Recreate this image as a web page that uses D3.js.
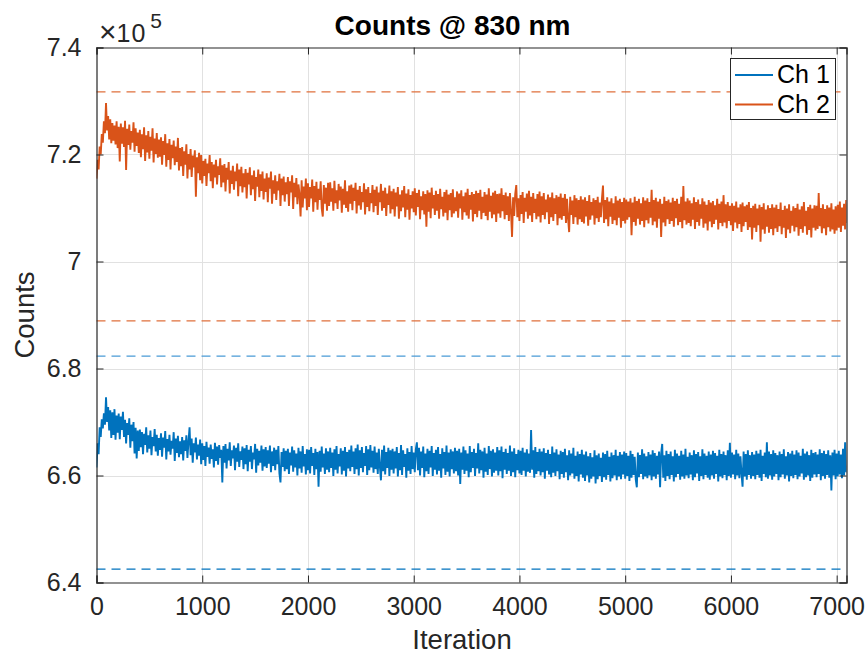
<!DOCTYPE html>
<html>
<head>
<meta charset="utf-8">
<script src="https://cdn.jsdelivr.net/npm/d3@7"></script>
<style>
    body { margin: 0; background: #ffffff; }
    text { font-family: "Liberation Sans", Arial, Helvetica, sans-serif; fill: #262626; }
</style>
</head>
<body>
<div class="counts-plot"></div>
<script>
// one sample every 10 iterations, counts in hundreds (7158 -> 715,800)
const iter_step = 10;
const x_max = 7093;

const ch1_counts = [
    6615, 6660, 6640, 6690, 6672, 6705, 6688, 6716, 6695, 6746, 6700, 6728, 6684, 6722, 6670, 6718, 6676, 6724, 6667, 6712,
    6680, 6716, 6668, 6710, 6685, 6719, 6672, 6704, 6660, 6698, 6676, 6707, 6652, 6695, 6664, 6700, 6641, 6689, 6632, 6684,
    6646, 6686, 6653, 6681, 6640, 6678, 6657, 6690, 6643, 6675, 6650, 6684, 6638, 6672, 6655, 6687, 6645, 6676, 6637, 6670,
    6648, 6679, 6635, 6671, 6652, 6683, 6630, 6668, 6645, 6676, 6639, 6665, 6650, 6681, 6627, 6669, 6642, 6674, 6634, 6664,
    6640, 6672, 6628, 6666, 6646, 6675, 6633, 6663, 6690, 6638, 6669, 6624, 6660, 6643, 6671, 6630, 6658, 6637, 6667, 6621,
    6660, 6629, 6655, 6618, 6663, 6635, 6652, 6622, 6658, 6631, 6649, 6615, 6661, 6627, 6654, 6620, 6657, 6633, 6648, 6587,
    6655, 6624, 6659, 6613, 6650, 6628, 6662, 6618, 6647, 6632, 6656, 6610, 6652, 6626, 6660, 6616, 6645, 6629, 6654, 6612,
    6651, 6621, 6657, 6608, 6648, 6626, 6655, 6612, 6643, 6630, 6659, 6605, 6650, 6619, 6646, 6624, 6656, 6609, 6649, 6617,
    6653, 6614, 6647, 6622, 6656, 6606, 6645, 6618, 6652, 6610, 6648, 6621, 6655, 6604, 6587, 6644, 6616, 6651, 6608, 6646,
    6612, 6650, 6603, 6643, 6619, 6654, 6607, 6647, 6615, 6641, 6600, 6652, 6613, 6645, 6605, 6655, 6617, 6640, 6602, 6649,
    6610, 6648, 6604, 6653, 6618, 6642, 6601, 6650, 6612, 6644, 6579, 6646, 6607, 6654, 6615, 6641, 6603, 6651, 6611, 6645,
    6606, 6652, 6614, 6643, 6599, 6649, 6611, 6655, 6604, 6640, 6617, 6651, 6602, 6646, 6609, 6653, 6598, 6644, 6613, 6648,
    6608, 6656, 6616, 6645, 6603, 6651, 6612, 6658, 6600, 6647, 6614, 6653, 6606, 6642, 6618, 6655, 6601, 6649, 6610, 6657,
    6615, 6646, 6605, 6654, 6612, 6643, 6603, 6650, 6617, 6591, 6648, 6608, 6656, 6602, 6644, 6614, 6652, 6599, 6647, 6611,
    6650, 6604, 6645, 6613, 6653, 6598, 6642, 6610, 6657, 6601, 6647, 6616, 6640, 6596, 6651, 6609, 6644, 6603, 6655, 6612,
    6643, 6606, 6649, 6662, 6610, 6652, 6600, 6645, 6614, 6654, 6597, 6641, 6608, 6650, 6603, 6646, 6615, 6655, 6599, 6642,
    6611, 6648, 6602, 6653, 6609, 6640, 6596, 6651, 6613, 6644, 6601, 6656, 6607, 6643, 6598, 6649, 6612, 6645, 6604, 6652,
    6608, 6646, 6600, 6650, 6584, 6643, 6611, 6654, 6603, 6647, 6609, 6641, 6597, 6655, 6606, 6644, 6614, 6650, 6599, 6642,
    6613, 6660, 6604, 6648, 6610, 6645, 6596, 6652, 6607, 6641, 6601, 6655, 6612, 6646, 6598, 6649, 6605, 6643, 6609, 6653,
    6600, 6647, 6608, 6654, 6595, 6644, 6611, 6650, 6603, 6642, 6609, 6656, 6599, 6645, 6606, 6651, 6597, 6640, 6610, 6648,
    6604, 6646, 6601, 6652, 6609, 6643, 6598, 6649, 6607, 6641, 6605, 6685, 6611, 6647, 6596, 6653, 6603, 6644, 6608, 6650,
    6600, 6645, 6606, 6651, 6594, 6642, 6609, 6648, 6602, 6640, 6597, 6654, 6605, 6643, 6599, 6649, 6608, 6639, 6593, 6646,
    6603, 6644, 6596, 6650, 6606, 6638, 6591, 6647, 6600, 6641, 6604, 6652, 6594, 6637, 6599, 6645, 6589, 6640, 6602, 6648,
    6596, 6639, 6590, 6645, 6600, 6636, 6587, 6642, 6594, 6634, 6598, 6647, 6585, 6638, 6593, 6641, 6599, 6633, 6588, 6643,
    6597, 6640, 6592, 6646, 6601, 6635, 6589, 6643, 6595, 6638, 6600, 6648, 6591, 6637, 6598, 6644, 6593, 6639, 6602, 6645,
    6594, 6642, 6599, 6637, 6590, 6646, 6596, 6640, 6601, 6635, 6592, 6578, 6643, 6597, 6638, 6603, 6649, 6593, 6641, 6598,
    6636, 6595, 6644, 6600, 6639, 6591, 6647, 6598, 6642, 6594, 6637, 6602, 6645, 6578, 6641, 6659, 6596, 6638, 6590, 6646,
    6599, 6640, 6593, 6645, 6601, 6636, 6589, 6648, 6597, 6641, 6603, 6637, 6592, 6646, 6598, 6639, 6594, 6650, 6600, 6635,
    6595, 6643, 6602, 6638, 6591, 6647, 6597, 6640, 6604, 6644, 6590, 6636, 6599, 6649, 6593, 6641, 6601, 6637, 6596, 6645,
    6592, 6639, 6600, 6646, 6594, 6642, 6603, 6637, 6589, 6648, 6598, 6640, 6595, 6645, 6601, 6638, 6591, 6647, 6599, 6661,
    6596, 6643, 6602, 6639, 6593, 6648, 6600, 6641, 6595, 6636, 6604, 6579, 6645, 6598, 6640, 6592, 6647, 6601, 6638, 6594,
    6644, 6599, 6639, 6593, 6646, 6601, 6641, 6596, 6648, 6590, 6637, 6603, 6643, 6597, 6662, 6594, 6645, 6600, 6640, 6592,
    6647, 6598, 6642, 6603, 6638, 6591, 6645, 6597, 6640, 6602, 6649, 6594, 6636, 6600, 6644, 6589, 6641, 6599, 6646, 6595,
    6639, 6601, 6647, 6593, 6643, 6598, 6637, 6604, 6650, 6592, 6641, 6597, 6645, 6600, 6638, 6590, 6648, 6596, 6642, 6602,
    6644, 6597, 6639, 6603, 6649, 6591, 6642, 6599, 6646, 6594, 6640, 6601, 6647, 6596, 6638, 6572, 6643, 6600, 6648, 6593,
    6641, 6598, 6646, 6602, 6639, 6595, 6650, 6600, 6662, 6606, 6618
];

const ch2_counts = [
    7155, 7190, 7172, 7215, 7200, 7238, 7222, 7262, 7240, 7296, 7245, 7272, 7228, 7266, 7221, 7259, 7226, 7254, 7219, 7262,
    7212, 7252, 7187, 7258, 7220, 7251, 7214, 7263, 7171, 7248, 7218, 7256, 7209, 7244, 7222, 7260, 7205, 7249, 7216, 7241,
    7203, 7246, 7195, 7238, 7210, 7251, 7188, 7236, 7204, 7244, 7192, 7233, 7207, 7249, 7185, 7230, 7201, 7240, 7194, 7228,
    7196, 7232, 7181, 7225, 7199, 7238, 7177, 7221, 7190, 7229, 7172, 7218, 7193, 7226, 7180, 7215, 7186, 7231, 7170, 7212,
    7178, 7214, 7160, 7206, 7181, 7219, 7155, 7201, 7172, 7210, 7158, 7198, 7176, 7208, 7121, 7195, 7165, 7203, 7152, 7199,
    7146, 7188, 7160, 7192, 7141, 7183, 7165, 7199, 7150, 7186, 7137, 7181, 7157, 7190, 7144, 7178, 7162, 7193, 7139, 7180,
    7148, 7182, 7131, 7175, 7153, 7186, 7127, 7170, 7145, 7179, 7134, 7168, 7150, 7183, 7122, 7172, 7141, 7177, 7129, 7165,
    7139, 7173, 7118, 7166, 7144, 7176, 7124, 7161, 7135, 7170, 7113, 7158, 7140, 7172, 7120, 7163, 7132, 7168, 7116, 7155,
    7130, 7165, 7111, 7157, 7136, 7168, 7108, 7152, 7127, 7161, 7115, 7150, 7133, 7164, 7104, 7155, 7124, 7159, 7112, 7148,
    7126, 7158, 7104, 7150, 7129, 7161, 7098, 7147, 7120, 7156, 7107, 7144, 7125, 7084, 7152, 7101, 7140, 7118, 7155, 7096,
    7146, 7102, 7139, 7118, 7153, 7093, 7141, 7111, 7149, 7097, 7136, 7115, 7150, 7099, 7084, 7143, 7108, 7138, 7095, 7147,
    7104, 7148, 7112, 7137, 7095, 7151, 7109, 7133, 7098, 7145, 7114, 7140, 7091, 7136, 7106, 7152, 7100, 7131, 7093, 7142,
    7108, 7144, 7096, 7138, 7113, 7147, 7090, 7134, 7105, 7141, 7097, 7130, 7111, 7146, 7088, 7135, 7102, 7139, 7094, 7128,
    7109, 7143, 7092, 7134, 7104, 7140, 7087, 7129, 7111, 7145, 7095, 7132, 7100, 7138, 7085, 7127, 7106, 7142, 7090, 7131,
    7098, 7136, 7084, 7129, 7103, 7139, 7080, 7125, 7094, 7133, 7101, 7141, 7083, 7127, 7097, 7135, 7078, 7124, 7099, 7131,
    7092, 7137, 7086, 7128, 7102, 7134, 7079, 7122, 7096, 7131, 7088, 7126, 7065, 7133, 7093, 7129, 7081, 7138, 7099, 7124,
    7087, 7132, 7095, 7126, 7080, 7136, 7098, 7121, 7084, 7130, 7091, 7134, 7077, 7125, 7096, 7128, 7083, 7135, 7090, 7120,
    7094, 7131, 7082, 7127, 7099, 7133, 7078, 7122, 7092, 7129, 7086, 7136, 7080, 7124, 7097, 7130, 7075, 7126, 7089, 7132,
    7083, 7128, 7095, 7134, 7079, 7121, 7091, 7130, 7085, 7125, 7077, 7137, 7093, 7123, 7081, 7129, 7088, 7132, 7074, 7126,
    7090, 7127, 7082, 7137, 7094, 7124, 7079, 7129, 7087, 7122, 7076, 7128, 7093, 7046, 7120, 7085, 7126, 7143, 7083, 7118,
    7076, 7124, 7089, 7130, 7072, 7119, 7093, 7127, 7080, 7132, 7086, 7121, 7074, 7128, 7091, 7117, 7079, 7126, 7084, 7131,
    7073, 7122, 7087, 7128, 7079, 7116, 7092, 7125, 7070, 7120, 7083, 7129, 7076, 7118, 7089, 7124, 7068, 7121, 7081, 7127,
    7078, 7119, 7085, 7126, 7072, 7117, 7080, 7055, 7121, 7087, 7114, 7070, 7124, 7083, 7118, 7069, 7115, 7079, 7122, 7074,
    7116, 7071, 7120, 7084, 7113, 7067, 7124, 7078, 7111, 7086, 7118, 7069, 7115, 7081, 7121, 7074, 7110, 7083, 7117, 7142,
    7072, 7115, 7079, 7120, 7066, 7112, 7084, 7118, 7070, 7109, 7077, 7122, 7068, 7114, 7082, 7117, 7063, 7111, 7076, 7119,
    7071, 7116, 7078, 7112, 7083, 7118, 7049, 7110, 7074, 7121, 7067, 7113, 7080, 7117, 7069, 7109, 7076, 7120, 7064, 7114,
    7077, 7118, 7071, 7111, 7082, 7134, 7068, 7115, 7075, 7119, 7063, 7112, 7080, 7117, 7046, 7108, 7073, 7121, 7066, 7113,
    7079, 7116, 7070, 7110, 7076, 7119, 7065, 7113, 7081, 7117, 7068, 7108, 7074, 7121, 7062, 7141, 7077, 7112, 7069, 7118,
    7072, 7114, 7066, 7109, 7078, 7120, 7061, 7111, 7074, 7116, 7067, 7107, 7080, 7118, 7063, 7112, 7071, 7106, 7058, 7115,
    7075, 7110, 7064, 7113, 7070, 7105, 7078, 7117, 7060, 7108, 7072, 7112, 7066, 7124, 7073, 7107, 7062, 7111, 7076, 7104,
    7068, 7109, 7057, 7104, 7073, 7112, 7062, 7101, 7070, 7107, 7055, 7110, 7066, 7103, 7074, 7106, 7059, 7111, 7064, 7100,
    7041, 7104, 7063, 7108, 7055, 7099, 7068, 7106, 7037, 7102, 7060, 7109, 7052, 7097, 7065, 7105, 7054, 7100, 7061, 7107,
    7049, 7101, 7062, 7106, 7055, 7098, 7066, 7110, 7051, 7096, 7063, 7104, 7044, 7099, 7060, 7107, 7053, 7095, 7067, 7103,
    7056, 7100, 7064, 7108, 7048, 7097, 7061, 7103, 7054, 7111, 7066, 7095, 7050, 7102, 7059, 7106, 7045, 7099, 7063, 7105,
    7058, 7104, 7061, 7128, 7066, 7100, 7053, 7107, 7062, 7098, 7049, 7105, 7064, 7101, 7056, 7109, 7060, 7097, 7052, 7103,
    7058, 7106, 7063, 7112, 7055, 7101, 7067, 7108, 7060, 7115, 7072
];

// mean -3% / +3% limits, hundreds of counts
const ch1_limits = [6425, 6823];
const ch2_limits = [6889, 7317];

const x_ticks = [0, 1000, 2000, 3000, 4000, 5000, 6000, 7000];
const y_ticks = [6400, 6600, 6800, 7000, 7200, 7400];
const series_names = ["Ch 1", "Ch 2"];
const series_colors = ["#0072bd", "#d95319"];

function draw_chart(){
    const width = 865;
    const height = 657;
    const left = 96.5, right = 846.5, top = 47.5, bottom = 582.5;

    const svg = d3.select('.counts-plot')
        .append('svg')
        .attr('width', width)
        .attr('height', height);

    const x = d3.scaleLinear().domain([0, x_max]).range([left, right]);
    const y = d3.scaleLinear().domain([6400, 7400]).range([bottom, top]);

    svg.append("clipPath")
        .attr("id", "plot-clip")
        .append("rect")
        .attr("x", left)
        .attr("y", top)
        .attr("width", right - left)
        .attr("height", bottom - top);

    // grid
    svg.append("g")
        .selectAll("line")
        .data(x_ticks.filter(t => t > 0))
        .enter()
        .append("line")
        .attr("x1", d => Math.round(x(d)) + 0.5)
        .attr("x2", d => Math.round(x(d)) + 0.5)
        .attr("y1", top)
        .attr("y2", bottom)
        .attr("stroke", "#e1e1e1")
        .attr("stroke-width", 1);

    svg.append("g")
        .selectAll("line")
        .data(y_ticks.filter(t => t > 6400 && t < 7400))
        .enter()
        .append("line")
        .attr("x1", left)
        .attr("x2", right)
        .attr("y1", d => Math.round(y(d)) + 0.5)
        .attr("y2", d => Math.round(y(d)) + 0.5)
        .attr("stroke", "#e1e1e1")
        .attr("stroke-width", 1);

    // limit lines
    const limits = [
        {v: ch2_limits[1], c: "#e0703c"},
        {v: ch2_limits[0], c: "#e0703c"},
        {v: ch1_limits[1], c: "#4a9bd6"},
        {v: ch1_limits[0], c: series_colors[0]}
    ];
    svg.append("g")
        .selectAll("line")
        .data(limits)
        .enter()
        .append("line")
        .attr("x1", left)
        .attr("x2", right)
        .attr("y1", d => y(d.v))
        .attr("y2", d => y(d.v))
        .attr("stroke", d => d.c)
        .attr("stroke-width", 1.2)
        .attr("stroke-dasharray", "9,6");

    // data lines
    const line = d3.line()
        .x((d, i) => x(i * iter_step))
        .y(d => y(d));

    const plot_g = svg.append("g").attr("clip-path", "url(#plot-clip)");
    [ch1_counts, ch2_counts].forEach(function(series, k){
        plot_g.append("path")
            .datum(series)
            .attr("d", line)
            .attr("fill", "none")
            .attr("stroke", series_colors[k])
            .attr("stroke-width", 1.9)
            .attr("stroke-linejoin", "miter")
            .attr("stroke-miterlimit", 2);
    });

    // axes (ticks pointing inside, box on all sides)
    const tick_len = 7;
    svg.append("g")
        .attr("transform", "translate(0," + bottom + ")")
        .call(d3.axisBottom(x).tickValues(x_ticks).tickSize(-tick_len).tickPadding(15).tickFormat(d3.format("d")));
    svg.append("g")
        .attr("transform", "translate(" + left + ",0)")
        .call(d3.axisLeft(y).tickValues(y_ticks).tickSize(-tick_len).tickPadding(15).tickFormat(d => d === 7000 ? "7" : d3.format(".1f")(d / 1000)));
    svg.append("g")
        .attr("transform", "translate(0," + top + ")")
        .call(d3.axisTop(x).tickValues(x_ticks).tickSize(-tick_len).tickFormat(""));
    svg.append("g")
        .attr("transform", "translate(" + right + ",0)")
        .call(d3.axisRight(y).tickValues(y_ticks).tickSize(-tick_len).tickFormat(""));

    svg.selectAll(".domain").attr("stroke", "#262626").attr("stroke-width", 1.2);
    svg.selectAll(".tick line").attr("stroke", "#262626").attr("stroke-width", 1);
    svg.selectAll(".tick text")
        .attr("font-size", "25px")
        .attr("fill", "#262626")
        .style("font-family", "'Liberation Sans', Arial, sans-serif");

    // exponent label
    const expo = svg.append("text")
        .attr("x", 99)
        .attr("y", 42);
    expo.append("tspan").attr("font-size", "30px").text("\u00d7");
    expo.append("tspan").attr("font-size", "25px").attr("letter-spacing", "1px").text("10");
    expo.append("tspan").attr("dx", 4).attr("dy", -14).attr("font-size", "21px").text("5");

    // titles
    svg.append("text")
        .attr("x", 452.5)
        .attr("y", 35)
        .attr("text-anchor", "middle")
        .attr("font-size", "28px")
        .attr("font-weight", "bold")
        .style("fill", "#000000")
        .text("Counts @ 830 nm");

    svg.append("text")
        .attr("x", 462)
        .attr("y", 649)
        .attr("text-anchor", "middle")
        .attr("font-size", "27.5px")
        .text("Iteration");

    svg.append("text")
        .attr("transform", "translate(34," + ((top + bottom) / 2) + ") rotate(-90)")
        .attr("text-anchor", "middle")
        .attr("font-size", "27.5px")
        .text("Counts");

    // legend
    const legend = svg.append("g");
    legend.append("rect")
        .attr("x", 730.5)
        .attr("y", 58.5)
        .attr("width", 105)
        .attr("height", 61)
        .attr("fill", "#ffffff")
        .attr("stroke", "#262626")
        .attr("stroke-width", 1);

    legend.selectAll("line")
        .data(series_names)
        .enter()
        .append("line")
        .attr("x1", 735)
        .attr("x2", 773)
        .attr("y1", (d, i) => 75 + i * 29.5)
        .attr("y2", (d, i) => 75 + i * 29.5)
        .attr("stroke", (d, i) => series_colors[i])
        .attr("stroke-width", 2);

    legend.selectAll("text")
        .data(series_names)
        .enter()
        .append("text")
        .attr("x", 777)
        .attr("y", (d, i) => 83 + i * 29.5)
        .attr("font-size", "25px")
        .style("fill", "#000000")
        .text(d => d);
}

draw_chart();
</script>
</body>
</html>
